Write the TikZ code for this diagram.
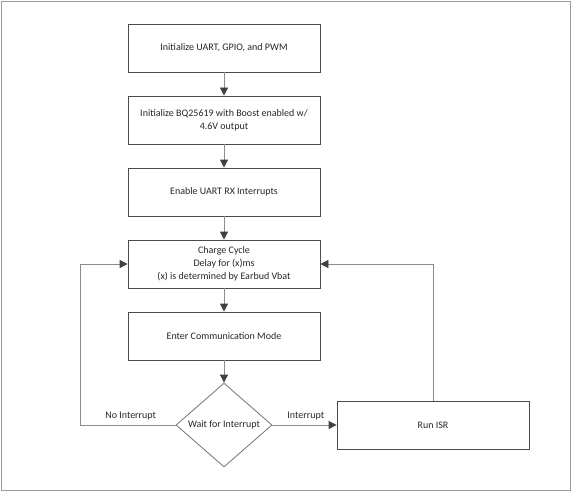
\documentclass[tikz,border=0pt]{standalone}
\usepackage{fontspec}
\setmainfont{Carlito}
\usetikzlibrary{arrows.meta,shapes.geometric}

\begin{document}
\begin{tikzpicture}[x=1pt, y=-1pt,
  every node/.style={font=\fontsize{10}{13}\selectfont, text=black!85},
  stepbox/.style={shape=rectangle, draw=black!70, thick, minimum width=192pt, minimum height=48pt, inner sep=0pt, align=center},
  waitbox/.style={shape=diamond, draw=black!55, thick, minimum width=96pt, minimum height=84pt, inner sep=0pt},
  flow/.style={draw=black!45, thick, -{Triangle[length=8pt, width=8pt, color=black!75]}}]
\draw[draw=black!40, thick] (1,1) rectangle (570,490);
\useasboundingbox (0,0) rectangle (572,492);
\node[stepbox] (init) at (224, 48) {Initialize UART, GPIO, and PWM};
\node[stepbox] (bq) at (224, 120) {Initialize BQ25619 with Boost enabled w/\\4.6V output};
\node[stepbox] (rx) at (224, 192) {Enable UART RX Interrupts};
\node[stepbox] (charge) at (224, 264) {Charge Cycle\\Delay for (x)ms\\(x) is determined by Earbud Vbat};
\node[stepbox] (comm) at (224, 336) {Enter Communication Mode};
\node[waitbox] (wait) at (224, 425) {Wait for Interrupt};
\node[stepbox] (isr) at (433, 425) {Run ISR};
\path [flow] (init) edge (bq);
\path [flow] (bq) edge (rx);
\path [flow] (rx) edge (charge);
\path [flow] (charge) edge (comm);
\path [flow] (comm) edge (wait);
\path [flow] (wait) edge node[above, pos=0.52, yshift=1pt] {Interrupt} (isr);
\draw [flow] (wait.west) -- node[above, pos=0.47, yshift=1pt] {No Interrupt} (80, 425) |- (charge.west);
\draw [flow] (isr.north) |- (charge.east);
\end{tikzpicture}
\end{document}
